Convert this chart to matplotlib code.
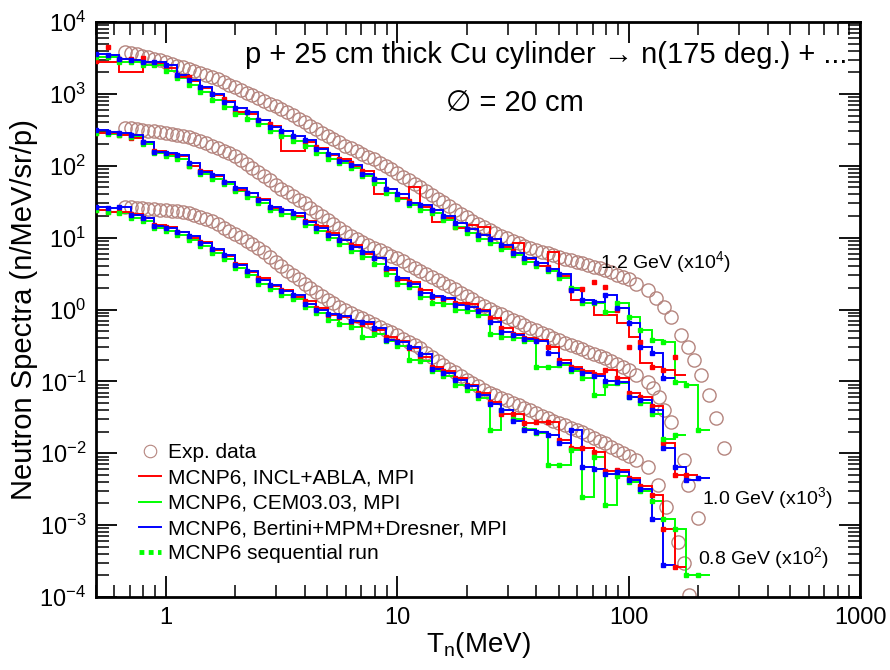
import numpy as np
import matplotlib
matplotlib.use("Agg")
import matplotlib.pyplot as plt
from matplotlib.lines import Line2D
from matplotlib.ticker import LogLocator, FixedLocator, FixedFormatter, NullFormatter

plt.rcParams.update({
    "font.family": ["Liberation Sans", "DejaVu Sans"],
    "mathtext.fontset": "custom",
    "mathtext.rm": "Liberation Sans",
    "mathtext.it": "Liberation Sans:italic",
    "mathtext.bf": "Liberation Sans:bold",
    "axes.unicode_minus": False,
})

# ---------------- experimental data (energies in MeV) ----------------
exp_E = [0.668, 0.708, 0.750, 0.794, 0.841, 0.891, 0.944, 1.00, 1.06, 1.12,
         1.19, 1.26, 1.33, 1.41, 1.50, 1.58, 1.68, 1.78, 1.88, 2.00,
         2.11, 2.24, 2.37, 2.51, 2.66, 2.82, 2.99, 3.16, 3.35, 3.55,
         3.76, 3.98, 4.22, 4.47, 4.73, 5.01, 5.31, 5.62, 5.96, 6.31,
         6.68, 7.08, 7.50, 7.94, 8.41, 8.91, 9.44, 10.0, 10.6, 11.2,
         11.9, 12.6, 13.3, 14.1, 15.0, 15.8, 16.8, 17.8, 18.8, 20.0,
         21.1, 22.4, 23.7, 25.1, 26.6, 28.2, 29.9, 31.6, 33.5, 35.5,
         37.6, 39.8, 42.2, 44.7, 47.3, 50.1, 53.1, 56.2, 59.6, 63.1,
         66.8, 70.8, 75.0, 79.4, 84.1, 89.1, 94.4, 100.0]

exp_12 = [3850, 3720, 3590, 3390, 3240, 3055, 2920, 2750, 2620, 2480,
          2360, 2240, 2090, 1970, 1850, 1740, 1600, 1460, 1350, 1230,
          1120, 1035, 950, 871, 794, 733, 673, 617, 556, 501,
          452, 407, 363, 324, 288, 257, 234, 211, 191, 174,
          158, 146, 134, 123, 110, 98.9, 88.7, 79.4, 70.8, 63.1,
          56.2, 50.1, 44.5, 39.4, 34.9, 30.9, 27.4, 24.3, 21.5, 19.1,
          17.2, 15.5, 14.0, 12.6, 11.6, 10.6, 9.73, 8.91, 8.32, 7.76,
          7.24, 6.76, 6.38, 6.03, 5.69, 5.37, 5.11, 4.84, 4.60, 4.37,
          4.15, 3.94, 3.74, 3.55, 3.30, 3.05, 2.84, 2.63]
exp_12_tail_E = [108, 121, 131, 142, 152, 168, 180, 191, 205, 222, 238, 258]
exp_12_tail = [2.25, 1.87, 1.45, 1.09, 0.79, 0.44, 0.30, 0.198, 0.123, 0.065, 0.031, 0.0118]

exp_10 = [339, 331, 324, 316, 309, 301, 293, 285, 276, 268,
          259, 251, 234, 219, 204, 191, 176, 162, 150, 138,
          121, 106, 92.9, 81.3, 71.3, 62.4, 54.7, 47.9, 42.6, 37.8,
          33.6, 29.9, 26.1, 22.8, 19.9, 17.4, 15.3, 13.5, 11.9, 10.5,
          9.55, 8.71, 7.94, 7.24, 6.65, 6.10, 5.60, 5.13, 4.66, 4.22,
          3.83, 3.47, 3.15, 2.85, 2.59, 2.34, 2.11, 1.90, 1.70, 1.53,
          1.38, 1.24, 1.12, 1.01, 0.931, 0.855, 0.787, 0.724, 0.664, 0.610,
          0.558, 0.513, 0.473, 0.437, 0.403, 0.372, 0.346, 0.321, 0.299, 0.279,
          0.260, 0.243, 0.226, 0.211, 0.192, 0.175, 0.159, 0.145]
exp_10_tail_E = [108, 121, 128, 135, 142, 152, 173, 180, 199]
exp_10_tail = [0.123, 0.098, 0.081, 0.061, 0.040, 0.027, 0.0081, 0.0036, 0.00126]

exp_08 = [26.9, 26.5, 26.1, 25.7, 25.3, 24.8, 24.4, 24.0, 23.5, 23.1,
          22.6, 22.1, 20.7, 19.4, 18.2, 17.0, 15.3, 13.8, 12.4, 11.2,
          10.1, 9.02, 8.09, 7.24, 6.24, 5.37, 4.62, 3.98, 3.47, 3.02,
          2.63, 2.29, 2.01, 1.76, 1.54, 1.35, 1.22, 1.10, 0.989, 0.891,
          0.817, 0.750, 0.687, 0.631, 0.575, 0.525, 0.479, 0.437, 0.394, 0.355,
          0.320, 0.288, 0.252, 0.221, 0.194, 0.170, 0.150, 0.133, 0.118, 0.105,
          0.0944, 0.0851, 0.0767, 0.0692, 0.0638, 0.0589, 0.0543, 0.0501, 0.0462, 0.0427,
          0.0394, 0.0363, 0.0335, 0.0309, 0.0285, 0.0263, 0.0244, 0.0226, 0.0210, 0.0195,
          0.0179, 0.0164, 0.0150, 0.0138, 0.0124, 0.0112, 0.0101, 0.00912]
exp_08_tail_E = [108, 121, 134, 145, 163, 173, 182]
exp_08_tail = [0.0081, 0.0065, 0.0036, 0.0018, 0.00059, 0.00030, 0.000107]

# ---------------- MCNP6 histograms (20 bins per decade from 0.5 MeV) ----------------
bin_edges = np.logspace(-0.3, 2.35, 54)

incl_12 = [2800, 2800, 2000, 2000, 2800, 2700, 2300, 1700, 1500, 1200,
           950, 800, 560, 520, 440, 360, 160, 160, 215, 175,
           140, 125, 100, 85, 40, 48, 36, 50, 27, 16.5,
           19, 13.6, 15, 14, 9.5, 7.5, 8.4, 5.0, 4.0, 6.3,
           2.9, 1.36, 1.36, 0.84, 0.84, 0.65, 0.42, 0.18, 0.16, 0.146,
           0.123]
cem_12 = [3250, 3250, 2800, 2800, 2500, 2500, 2100, 1650, 1350, 1050,
          830, 660, 530, 450, 380, 300, 260, 220, 190, 150,
          125, 108, 92, 72, 58, 42, 35, 28, 24, 22,
          17.5, 14, 11.5, 9.5, 8.3, 7.0, 5.8, 4.6, 4.0, 3.4,
          2.7, 2.0, 1.23, 1.23, 0.93, 1.23, 0.79, 0.52, 0.38, 0.35,
          0.098, 0.089, 0.021]
bert_12 = [3550, 3480, 3050, 3000, 2800, 2750, 2500, 1850, 1550, 1250,
           1000, 780, 640, 560, 440, 350, 300, 260, 225, 170,
           145, 118, 104, 78, 66, 47, 40, 30, 28, 24,
           20, 16, 13, 11, 9.5, 7.8, 6.2, 5.2, 4.4, 3.7,
           3.1, 1.86, 1.36, 1.27, 1.6, 1.05, 0.65, 0.30, 0.25, 0.11]
incl_seq_12 = [2900, 4500, 3000, 3100, 3150, 2700, 2400, 1750, 1700, 1200,
               1000, 850, 560, 560, 440, 380, 280, 250, 215, 185,
               140, 125, 110, 85, 65, 48, 36, 32, 27, 24,
               19, 14, 13, 11, 9.5, 7.5, 6.5, 5.0, 4.3, 3.9,
               3.0, 1.86, 1.9, 2.4, 2.05, 1.0, 0.30, 0.35, 0.16, 0.146,
               0.22]

incl_10 = [285, 285, 270, 240, 215, 160, 148, 138, 100, 85,
           72, 60, 46, 42, 34, 26, 24, 20, 17, 14.5,
           11.5, 9.3, 7.8, 6.0, 5.2, 3.6, 2.6, 2.4, 1.85, 1.5,
           1.4, 1.25, 1.2, 1.0, 0.75, 0.55, 0.45, 0.40, 0.38, 0.30,
           0.20, 0.16, 0.14, 0.125, 0.145, 0.11, 0.07, 0.06, 0.045, 0.014,
           0.005, 0.005]
cem_10 = [290, 280, 270, 250, 200, 150, 135, 125, 100, 78,
          66, 55, 45, 37, 30, 24.5, 21.5, 19.5, 15, 12.5,
          10, 8.2, 6.6, 5.4, 4.3, 3.1, 2.3, 2.05, 1.5, 1.25,
          1.2, 1.0, 0.95, 0.85, 0.45, 0.42, 0.40, 0.36, 0.16, 0.16,
          0.17, 0.14, 0.11, 0.065, 0.09, 0.095, 0.06, 0.05, 0.035, 0.016,
          0.018]
bert_10 = [314, 296, 290, 268, 214, 157, 150, 141, 110, 82,
           74.5, 59.5, 49, 41.8, 33.5, 27, 24.4, 22, 16.5, 13.6,
           10.9, 9.3, 7.4, 6.3, 5.2, 3.8, 2.7, 2.3, 1.7, 1.55,
           1.45, 1.15, 1.1, 0.95, 0.68, 0.48, 0.44, 0.39, 0.36, 0.25,
           0.18, 0.15, 0.13, 0.12, 0.10, 0.098, 0.061, 0.055, 0.040, 0.012,
           0.0065, 0.0043, 0.0045]

incl_08 = [24, 23, 23, 21, 19, 15, 14, 12, 10, 8.6,
           6.8, 5.5, 4.3, 3.3, 2.7, 2.1, 1.85, 1.5, 1.3, 1.05,
           0.85, 0.78, 0.66, 0.62, 0.52, 0.42, 0.36, 0.29, 0.22, 0.16,
           0.14, 0.11, 0.09, 0.068, 0.052, 0.035, 0.035, 0.026, 0.027, 0.027,
           0.0155, 0.0118, 0.0118, 0.0105, 0.0056, 0.0058, 0.0045, 0.0035, 0.0026, 0.00088,
           0.00026]
cem_08 = [24, 23, 22, 19, 17, 13.5, 12.5, 11, 9.3, 7.6,
          6.2, 5.0, 3.8, 3.0, 2.3, 1.9, 1.6, 1.4, 1.1, 0.9,
          0.72, 0.62, 0.58, 0.42, 0.45, 0.36, 0.31, 0.20, 0.19, 0.14,
          0.12, 0.09, 0.075, 0.058, 0.021, 0.04, 0.030, 0.022, 0.019, 0.0068,
          0.0068, 0.011, 0.0025, 0.009, 0.0019, 0.0048, 0.0040, 0.0030, 0.0022, 0.0012,
          0.00088, 0.0002, 0.0002]
bert_08 = [26.7, 25.8, 27, 20.7, 18.8, 14.5, 13.6, 12, 10.5, 8.4,
           7.0, 5.8, 4.17, 3.45, 2.6, 2.2, 1.8, 1.6, 1.2, 1.0,
           0.86, 0.82, 0.70, 0.66, 0.55, 0.38, 0.35, 0.30, 0.24, 0.15,
           0.13, 0.105, 0.085, 0.065, 0.048, 0.040, 0.028, 0.021, 0.020, 0.018,
           0.014, 0.021, 0.0065, 0.0060, 0.0052, 0.0055, 0.0042, 0.0032, 0.0012, 0.00028]

x_ticks = [1, 10, 100, 1000]
x_tick_labels = ["1", "10", "100", "1000"]
y_ticks = [1e-4, 1e-3, 1e-2, 1e-1, 1e0, 1e1, 1e2, 1e3, 1e4]
y_tick_labels = ["10$^{-4}$", "10$^{-3}$", "10$^{-2}$", "10$^{-1}$", "10$^{0}$",
                 "10$^{1}$", "10$^{2}$", "10$^{3}$", "10$^{4}$"]
energy_labels = ["1.2 GeV (x10$^{4}$)", "1.0 GeV (x10$^{3}$)", "0.8 GeV (x10$^{2}$)"]
legend_labels = ["Exp. data", "MCNP6, INCL+ABLA, MPI", "MCNP6, CEM03.03, MPI",
                 "MCNP6, Bertini+MPM+Dresner, MPI", "MCNP6 sequential run"]

C_EXP = "#B5857F"
C_RED = "#FF0000"
C_GRN = "#00FF00"
C_BLU = "#0000FF"

fig = plt.figure(figsize=(8.9, 6.7), dpi=100)
ax = fig.add_axes([96 / 890, 1 - 597 / 670, (860 - 96) / 890, (597 - 22) / 670])
ax.set_xscale("log")
ax.set_yscale("log")

# experimental circles
for e_main, y_main, e_tail, y_tail in [
        (exp_E, exp_12, exp_12_tail_E, exp_12_tail),
        (exp_E, exp_10, exp_10_tail_E, exp_10_tail),
        (exp_E, exp_08, exp_08_tail_E, exp_08_tail)]:
    ax.plot(list(e_main) + list(e_tail), list(y_main) + list(y_tail), linestyle="none",
            marker="o", markersize=9.5, markerfacecolor="none",
            markeredgecolor=C_EXP, markeredgewidth=1.0, zorder=1)

# histograms
groups = [(incl_12, cem_12, bert_12, incl_seq_12),
          (incl_10, cem_10, bert_10, incl_10),
          (incl_08, cem_08, bert_08, incl_08)]
for incl, cem, bert, incl_seq in groups:
    for vals, col, z in [(incl, C_RED, 3), (cem, C_GRN, 2), (bert, C_BLU, 4)]:
        n = len(vals)
        ax.stairs(vals, bin_edges[:n + 1], baseline=None, color=col, lw=1.4, zorder=z)
    for vals, col in [(incl_seq, C_RED), (cem, C_GRN), (bert, C_BLU)]:
        n = len(vals)
        ax.plot(bin_edges[:n], vals, linestyle="none", marker="s", markersize=3.3,
                color=col, zorder=5)

ax.set_xlim(0.5, 1000)
ax.set_ylim(1e-4, 1e4)

ax.xaxis.set_major_locator(FixedLocator(x_ticks))
ax.xaxis.set_major_formatter(FixedFormatter(x_tick_labels))
ax.xaxis.set_minor_locator(LogLocator(base=10, subs=np.arange(2, 10), numticks=100))
ax.xaxis.set_minor_formatter(NullFormatter())
ax.yaxis.set_major_locator(FixedLocator(y_ticks))
ax.yaxis.set_major_formatter(FixedFormatter(y_tick_labels))
ax.yaxis.set_minor_locator(LogLocator(base=10, subs=np.arange(2, 10), numticks=100))
ax.yaxis.set_minor_formatter(NullFormatter())

ax.tick_params(which="both", direction="in", top=True, right=True, labelsize=17)
ax.tick_params(which="major", length=15, width=1.3, pad=7)
ax.tick_params(which="minor", length=9, width=1.1)
for s in ax.spines.values():
    s.set_linewidth(2)

ax.set_xlabel(r"T$_{\mathrm{n}}$(MeV)", fontsize=20, labelpad=1)
ax.set_ylabel("Neutron Spectra (n/MeV/sr/p)", fontsize=21, labelpad=1)

ax.text(0.984, 0.943, "p + 25 cm thick Cu cylinder \u2192 n(175 deg.) + ...",
        transform=ax.transAxes, ha="right", va="center", fontsize=21)
ax.text(0.548, 0.859, "\u2205 = 20 cm", transform=ax.transAxes,
        ha="center", va="center", fontsize=21)

for lab, (tx, ty) in zip(energy_labels, [(0.660, 0.583), (0.793, 0.172), (0.788, 0.068)]):
    ax.text(tx, ty, lab, transform=ax.transAxes, ha="left", va="center", fontsize=14)

handles = [
    Line2D([], [], linestyle="none", marker="o", markersize=9, markerfacecolor="none",
           markeredgecolor=C_EXP, markeredgewidth=0.8),
    Line2D([], [], color=C_RED, lw=1.4),
    Line2D([], [], color=C_GRN, lw=1.4),
    Line2D([], [], color=C_BLU, lw=1.4),
    Line2D([], [], color=C_GRN, lw=3.5, linestyle=(0, (1, 0.9))),
]
ax.legend(handles, legend_labels, loc="upper left", bbox_to_anchor=(0.056, 0.267),
          frameon=False, fontsize=15, handlelength=1.05, handletextpad=0.35,
          labelspacing=0.3, borderpad=0, borderaxespad=0)

fig.savefig("out.png", dpi=100)
